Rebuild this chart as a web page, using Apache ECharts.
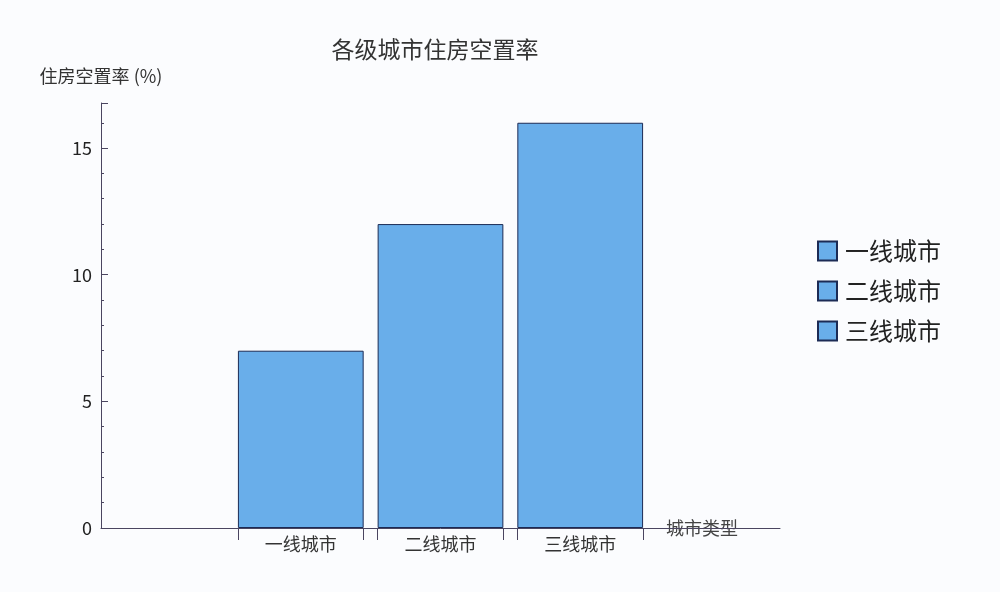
<!DOCTYPE html>
<html>
<head>
<meta charset="utf-8">
<title>各级城市住房空置率</title>
<script src="https://cdn.jsdelivr.net/npm/echarts@6/dist/echarts.min.js"></script>
<style>
html,body{margin:0;padding:0;background:#fbfcfe}
#main{width:1000px;height:592px}
</style>
</head>
<body>
<div id="main"></div>
<script>
// 数据
var cityTypes = ['一线城市', '二线城市', '三线城市']
var vacancyRate = [7, 12, 16]
var yMax = 16.78

var fontCN = '"Noto Sans CJK SC", "Noto Sans", sans-serif'
var axisColor = '#4a4560'
var barColor = '#69aeea'

// x 轴用数值轴, 每个城市类型占 1 个单位, 左右留空
var xMin = -0.43, xMax = 4.43
var gridLeft = 101, gridRight = 220
var unit = (1000 - gridLeft - gridRight) / (xMax - xMin)
var barW = unit * 0.9

var edgeTicks = []
var labelPos = []
for (var i = 0; i < cityTypes.length; i++) {
    edgeTicks.push(i + 1 - 0.45, i + 1 + 0.45)
    labelPos.push(i + 1)
}

var series = []
for (var i = 0; i < cityTypes.length; i++) {
    series.push({
        name: cityTypes[i],
        type: 'bar',
        barWidth: barW,
        barGap: '-100%',
        itemStyle: {
            color: barColor,
            borderColor: '#1c2b55',
            borderWidth: 1
        },
        data: [[i + 1, vacancyRate[i]]]
    })
}

var myChart = echarts.init(document.getElementById('main'))
var option = {
    backgroundColor: '#fbfcfe',
    animation: false,
    textStyle: { fontFamily: fontCN },
    title: {
        text: '各级城市住房空置率',
        left: 430,
        textAlign: 'center',
        top: 33,
        textStyle: { fontSize: 23, fontWeight: 'normal', color: '#333', fontFamily: fontCN }
    },
    legend: {
        data: cityTypes,
        orient: 'vertical',
        left: 817,
        top: 239,
        padding: 0,
        icon: 'rect',
        itemWidth: 19,
        itemHeight: 19,
        itemGap: 16,
        textStyle: { fontSize: 24, color: '#222', fontFamily: fontCN, padding: [0, 0, 0, 3] }
    },
    grid: {
        left: gridLeft,
        right: gridRight,
        top: 103,
        bottom: 64,
        containLabel: false
    },
    xAxis: {
        type: 'value',
        min: xMin,
        max: xMax,
        name: '城市类型',
        nameLocation: 'end',
        nameGap: -114,
        nameTextStyle: { fontSize: 18, color: '#444', fontFamily: fontCN },
        splitLine: { show: false },
        axisLine: { show: true, lineStyle: { color: axisColor, width: 1 } },
        axisTick: {
            show: true,
            length: 12,
            customValues: edgeTicks,
            lineStyle: { color: axisColor }
        },
        axisLabel: {
            customValues: labelPos,
            margin: 7,
            fontSize: 18,
            color: '#333',
            formatter: function (v) {
                return cityTypes[Math.round(v) - 1] || ''
            }
        }
    },
    yAxis: {
        type: 'value',
        min: 0,
        max: yMax,
        interval: 5,
        name: '住房空置率 (%)',
        nameLocation: 'end',
        nameGap: 18,
        nameTextStyle: { fontSize: 18, color: '#333', fontFamily: fontCN },
        splitLine: { show: false },
        axisLine: { show: true, onZero: false, lineStyle: { color: axisColor, width: 1 } },
        axisTick: { show: true, inside: true, length: 7, lineStyle: { color: axisColor } },
        minorTick: { show: true, splitNumber: 5, length: 3, lineStyle: { color: axisColor } },
        axisLabel: {
            fontSize: 18,
            color: '#222',
            margin: 9,
            showMaxLabel: false,
            formatter: function (v) {
                return v % 5 === 0 ? String(v) : ''
            }
        }
    },
    series: series
}
myChart.setOption(option)
</script>
</body>
</html>
